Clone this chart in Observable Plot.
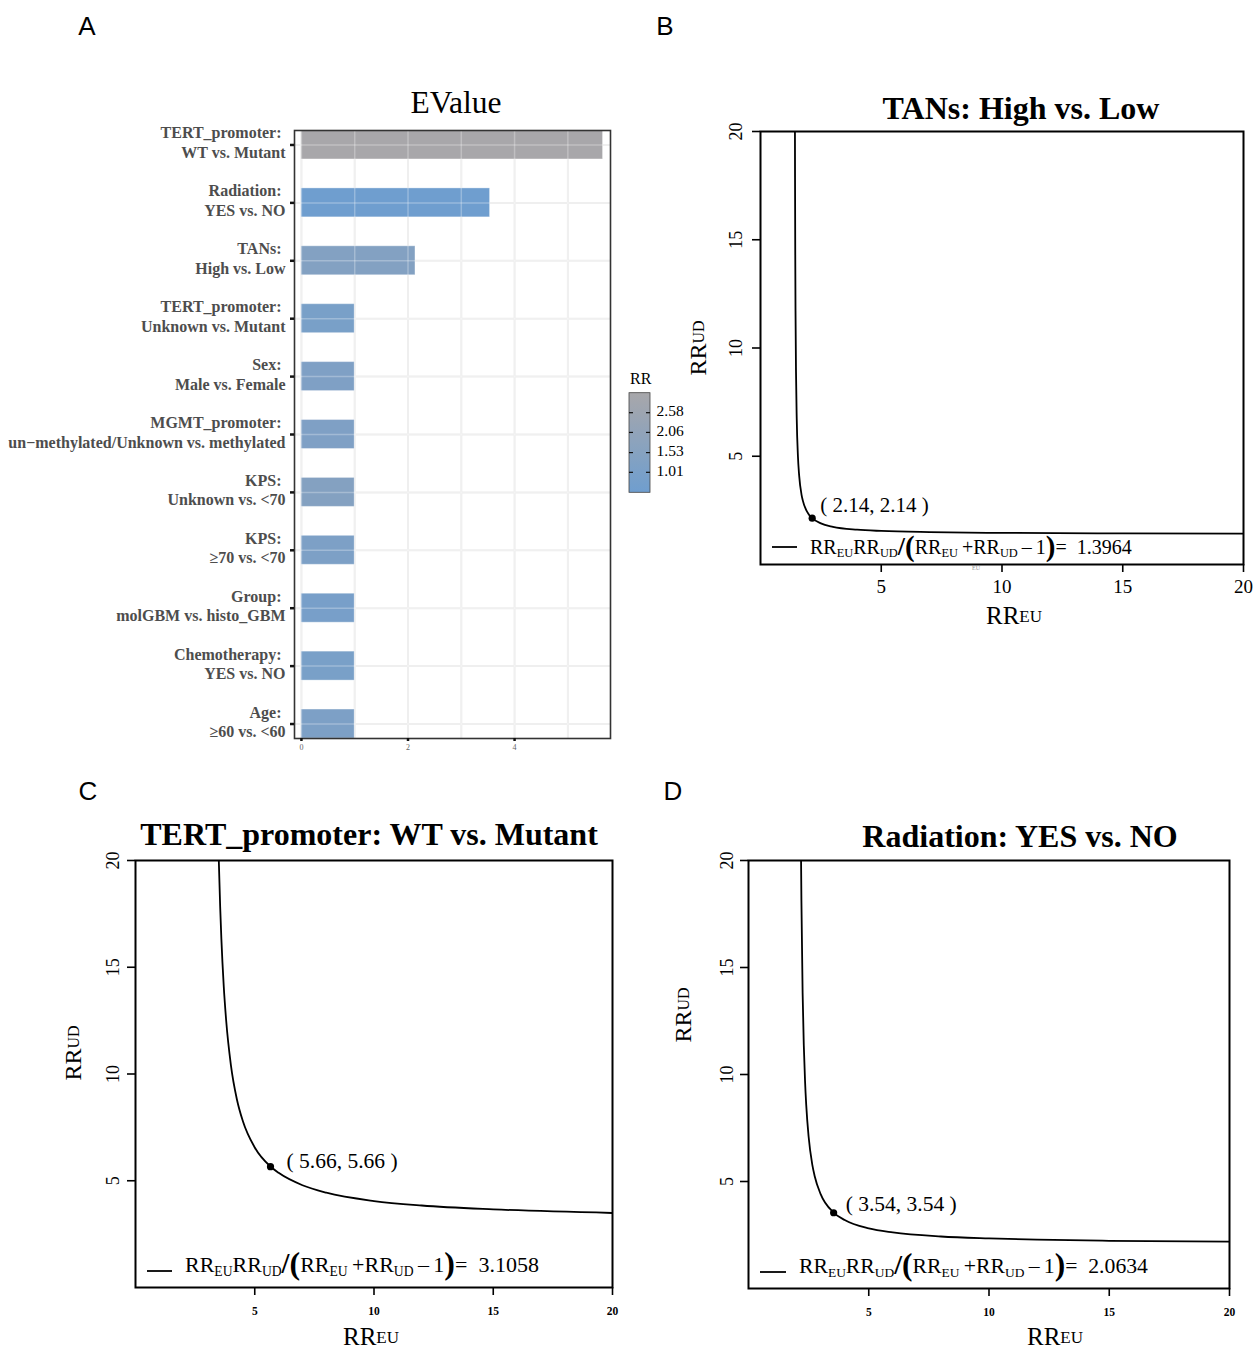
<!DOCTYPE html>
<html><head><meta charset="utf-8">
<script src="https://cdn.jsdelivr.net/npm/d3@7"></script>
<script src="https://cdn.jsdelivr.net/npm/@observablehq/plot@0.6"></script>
<style>
html,body{margin:0;padding:0;background:#fff;}
#root{position:relative;width:1255px;height:1351px;overflow:hidden;background:#fff;}
#root > svg{position:absolute;}
</style></head><body><div id="root"></div>
<script>
const SERIF = "'Liberation Serif','Times New Roman',Times,serif";
const SANS = "'Liberation Sans',Arial,Helvetica,sans-serif";

// ---------- Panel A data ----------
const factorNames = ["TERT_promoter:", "Radiation:", "TANs:", "TERT_promoter:", "Sex:", "MGMT_promoter:", "KPS:", "KPS:", "Group:", "Chemotherapy:", "Age:"];
const contrasts = ["WT vs. Mutant", "YES vs. NO", "High vs. Low", "Unknown vs. Mutant", "Male vs. Female", "un\u2212methylated/Unknown vs. methylated", "Unknown vs. <70", "\u226570 vs. <70", "molGBM vs. histo_GBM", "YES vs. NO", "\u226560 vs. <60"];
const evalues = [5.66, 3.54, 2.14, 1, 1, 1, 1, 1, 1, 1, 1];
const rrValues = [3.1058, 0.4846, 1.3964, 0.95, 1.2, 1.2, 1.45, 1.15, 0.9, 0.95, 1.15];
const evalueTicks = [0, 2, 4];
const evalueGrid = [0, 1, 2, 3, 4, 5];
const rrLegendTicks = [1.01, 1.53, 2.06, 2.58];

// ---------- Bias plot data ----------
const biasAxisTicks = [5, 10, 15, 20];
const tansTitle = "TANs: High vs. Low";
const tansBias = 1.3964;
const tansPoint = [2.14, 2.14];
const tansX = [1.4262, 1.43, 1.44, 1.45, 1.47, 1.5, 1.55, 1.6, 1.7, 1.75, 2.0, 2.14, 2.5, 3, 4, 5, 7, 10, 15, 20];
const tansY = [20, 17.87, 14.09, 11.72, 8.92, 6.74, 5.0, 4.115, 3.22, 2.962, 2.313, 2.141, 1.898, 1.742, 1.609, 1.550, 1.495, 1.460, 1.437, 1.426];

const tertTitle = "TERT_promoter: WT vs. Mutant";
const tertBias = 3.1058;
const tertPoint = [5.66, 5.66];
const tertX = [3.4929, 3.55, 3.6, 3.7, 3.8, 4.0, 4.25, 4.5, 5, 5.66, 6, 7, 8, 10, 12, 15, 20];
const tertY = [20, 17.83, 16.34, 14.11, 12.53, 10.42, 8.82, 7.80, 6.56, 5.666, 5.37, 4.79, 4.44, 4.05, 3.84, 3.66, 3.49];

const radTitle = "Radiation: YES vs. NO";
const radBias = 2.0634;
const radPoint = [3.54, 3.54];
const radX = [2.1858, 2.2, 2.25, 2.3, 2.35, 2.4, 2.5, 2.65, 2.75, 3, 3.54, 4, 5, 6, 8, 10, 12, 15, 20];
const radY = [20, 18.13, 13.82, 11.34, 9.72, 8.58, 7.09, 5.80, 5.26, 4.41, 3.55, 3.20, 2.81, 2.62, 2.43, 2.34, 2.28, 2.23, 2.19];

const root = d3.select("#root");
function place(svgNode, left, top) {
  d3.select(svgNode).style("position", "absolute").style("left", left + "px").style("top", top + "px")
    .style("overflow", "visible").style("background", "none").style("max-width", "none");
  root.node().appendChild(svgNode);
  return d3.select(svgNode);
}

// ---------- Panel A ----------
const rows = factorNames.map((f, i) => ({label: f + "\u00A0\n" + contrasts[i], e: evalues[i], rr: rrValues[i]}));
const cats = rows.map(d => d.label);
const plotA = Plot.plot({
  width: 625, height: 680,
  marginLeft: 294, marginRight: 15, marginTop: 50, marginBottom: 22,
  style: {fontFamily: SERIF, background: "none", overflow: "visible", color: "#000"},
  x: {domain: [-0.13, 5.80]},
  y: {domain: cats, paddingInner: 0.5, paddingOuter: 0, round: false},
  color: {type: "linear", domain: d3.extent(rrValues), range: ["#6F9ECF", "#A8A7AA"], interpolate: "rgb"},
  marks: [
    Plot.gridX(evalueGrid, {stroke: "#EBEBEB", strokeOpacity: 1, strokeWidth: 2}),
    Plot.gridY({stroke: "#EBEBEB", strokeOpacity: 1, strokeWidth: 2}),
    Plot.barX(rows, {x: "e", y: "label", fill: "rr", stroke: "#fff", strokeOpacity: 0.35, strokeWidth: 1}),
    Plot.gridX(evalueGrid, {stroke: "#fff", strokeOpacity: 0.28, strokeWidth: 1.5}),
    Plot.gridY({stroke: "#fff", strokeOpacity: 0.28, strokeWidth: 1.5}),
    Plot.frame({stroke: "#333", strokeWidth: 1.6}),
    Plot.axisY({tickSize: 4, strokeWidth: 2.5, stroke: "#111", tickFormat: () => "", label: null}),
    Plot.axisY({tickSize: 0, tickPadding: 9, dy: -3, fontSize: 16, fontWeight: "bold", fill: "#4D4D4D", lineHeight: 1.22, label: null}),
    Plot.axisX(evalueTicks, {tickSize: 3, strokeWidth: 2.5, stroke: "#111", tickPadding: 3, fontSize: 8, fill: "#666", label: null})
  ]
});
const sA = place(plotA, 0, 80);
sA.append("text").attr("x", 456).attr("y", 26).attr("text-anchor", "middle").attr("dominant-baseline", "middle")
  .attr("font-family", SERIF).attr("font-size", 31.5).attr("fill", "#000").text("EValue");

// colour bar legend
(function () {
  const cs = plotA.scale("color");
  const [d0, d1] = cs.domain;
  const sv = root.append("svg").attr("width", 120).attr("height", 150)
    .style("position", "absolute").style("left", "600px").style("top", "360px").style("overflow", "visible");
  const grad = sv.append("defs").append("linearGradient").attr("id", "rrgrad")
    .attr("x1", 0).attr("y1", 1).attr("x2", 0).attr("y2", 0);
  for (let k = 0; k <= 10; k++) {
    const v = d0 + (d1 - d0) * k / 10;
    grad.append("stop").attr("offset", (k * 10) + "%").attr("stop-color", cs.apply(v));
  }
  const yb = d3.scaleLinear().domain([d0, d1]).range([132.3, 32.7]);
  sv.append("rect").attr("x", 29).attr("y", 32.7).attr("width", 21).attr("height", 99.6)
    .attr("fill", "url(#rrgrad)").attr("stroke", "#444").attr("stroke-width", 0.8);
  sv.append("text").attr("x", 30).attr("y", 20.7).attr("dominant-baseline", "middle")
    .attr("font-family", SERIF).attr("font-size", 16).attr("fill", "#000").text("RR");
  for (const t of rrLegendTicks) {
    const y = yb(t);
    sv.append("line").attr("x1", 29).attr("x2", 33).attr("y1", y).attr("y2", y).attr("stroke", "#111").attr("stroke-width", 1.2);
    sv.append("line").attr("x1", 46).attr("x2", 50).attr("y1", y).attr("y2", y).attr("stroke", "#111").attr("stroke-width", 1.2);
    sv.append("text").attr("x", 56.5).attr("y", y).attr("dominant-baseline", "middle")
      .attr("font-family", SERIF).attr("font-size", 15.5).attr("fill", "#000").text(d3.format(".2f")(t));
  }
})();

// ---------- Bias panels ----------
function drawEquation(g, x, cy, fs, value) {
  const t = g.append("text").attr("x", x).attr("y", cy + fs * 0.33).attr("font-family", SERIF)
    .attr("text-anchor", "start").attr("font-size", fs).attr("fill", "#000");
  const sub = fs * 0.62, sh = fs * 0.18;
  const parts = [
    ["RR", fs, 0], ["EU", sub, sh], ["RR", fs, 0], ["UD", sub, sh],
    ["/", fs * 1.3, fs * 0.05, "bold"], ["(", fs * 1.45, fs * 0.1, "bold"], ["RR", fs, 0], ["EU", sub, sh],
    ["\u2009+RR", fs, 0], ["UD", sub, sh], ["\u2009\u2013\u20091", fs, 0], [")", fs * 1.45, fs * 0.1, "bold"],
    ["=\u2002" + d3.format(".4f")(value), fs, 0]
  ];
  let cur = 0;
  for (const [s, size, shift, w] of parts) {
    const ts = t.append("tspan").attr("font-size", size).attr("dy", shift - cur).text(s);
    if (w) ts.attr("font-weight", w);
    cur = shift;
  }
}
function rrLabel(g, x, y, big, small, rotate) {
  const t = g.append("text").attr("font-family", SERIF).attr("fill", "#000").attr("text-anchor", "middle")
    .attr("dominant-baseline", "middle")
    .attr("transform", `translate(${x},${y})` + (rotate ? " rotate(-90)" : ""));
  t.append("tspan").attr("font-size", big).text("RR");
  t.append("tspan").attr("font-size", small).text(rotate ? "UD" : "EU");
}

function biasPanel(c) {
  const pts = c.xs.map((x, i) => ({x, y: c.ys[i]}));
  const ml = c.frame[0] - c.box[0], mr = c.box[0] + c.box[2] - c.frame[1];
  const mt = c.frame[2] - c.box[1], mb = c.box[1] + c.box[3] - c.frame[3];
  const fmt = d3.format(".2f");
  const p = Plot.plot({
    width: c.box[2], height: c.box[3],
    marginLeft: ml, marginRight: mr, marginTop: mt, marginBottom: mb,
    style: {fontFamily: SERIF, background: "none", overflow: "visible", color: "#000"},
    x: {domain: [0, 20]}, y: {domain: [0, 20]},
    marks: [
      Plot.line(pts, {x: "x", y: "y", curve: "monotone-x", stroke: "#000", strokeWidth: 1.8, clip: true}),
      Plot.frame({stroke: "#000", strokeWidth: 2}),
      Plot.axisX(biasAxisTicks, {tickSize: 8, strokeWidth: 1.6, tickPadding: c.xTickPad, fontSize: c.xTickFont,
        fontWeight: c.xTickBold ? "bold" : "normal", label: null}),
      Plot.axisY(biasAxisTicks, {tickSize: 8, strokeWidth: 1.6, tickFormat: () => "", label: null}),
      Plot.text(biasAxisTicks, {y: d => d, frameAnchor: "left", dx: c.yTickDx, rotate: -90, textAnchor: "middle",
        fontSize: 18, text: d => String(d)}),
      Plot.dot([c.point], {x: d => d[0], y: d => d[1], r: 3.6, fill: "#000", stroke: "none"}),
      Plot.text([c.point], {x: d => d[0], y: d => d[1], text: d => `( ${fmt(d[0])}, ${fmt(d[1])} )`,
        textAnchor: "start", dx: c.labelDx, dy: c.labelDy, fontSize: c.labelFont})
    ]
  });
  const s = place(p, c.box[0], c.box[1]);
  s.append("text").attr("x", c.title[0]).attr("y", c.title[1]).attr("text-anchor", "middle")
    .attr("dominant-baseline", "middle").attr("font-family", SERIF).attr("font-weight", "bold")
    .attr("font-size", c.titleFont).attr("fill", "#000").text(c.titleText);
  rrLabel(s, c.ylab[0], c.ylab[1], 24, 16, true);
  rrLabel(s, c.xlab[0], c.xlab[1], 25, 17, false);
  s.append("line").attr("x1", c.leg[0]).attr("x2", c.leg[1]).attr("y1", c.leg[2]).attr("y2", c.leg[2])
    .attr("stroke", "#000").attr("stroke-width", 1.8);
  drawEquation(s, c.leg[3], c.leg[4], c.eqFont, c.bias);
  if (c.extra) c.extra(s);
  return p;
}

biasPanel({
  box: [660, 80, 595, 560], frame: [760, 1243, 131, 564],
  xs: tansX, ys: tansY, point: tansPoint, bias: tansBias, titleText: tansTitle,
  title: [361, 32], titleFont: 32, ylab: [40, 268], xlab: [354, 538],
  xTickPad: 7, xTickFont: 19, xTickBold: false, yTickDx: -24,
  labelDx: 8, labelDy: -13, labelFont: 21,
  leg: [112, 137, 467, 150, 467], eqFont: 20,
  extra: s => s.append("text").attr("x", 316).attr("y", 489).attr("text-anchor", "middle")
    .attr("dominant-baseline", "middle").attr("font-family", SERIF).attr("font-size", 6).attr("fill", "#999").text("EU")
});
biasPanel({
  box: [40, 800, 600, 551], frame: [135, 612, 860, 1287],
  xs: tertX, ys: tertY, point: tertPoint, bias: tertBias, titleText: tertTitle,
  title: [329, 38], titleFont: 32, ylab: [35, 253], xlab: [331, 539],
  xTickPad: 11, xTickFont: 11.5, xTickBold: true, yTickDx: -22,
  labelDx: 16, labelDy: -6, labelFont: 21.5,
  leg: [107, 132, 471, 145, 465], eqFont: 22
});
biasPanel({
  box: [650, 800, 605, 551], frame: [748, 1229, 860, 1288],
  xs: radX, ys: radY, point: radPoint, bias: radBias, titleText: radTitle,
  title: [370, 40], titleFont: 32, ylab: [35, 215], xlab: [405, 539],
  xTickPad: 11, xTickFont: 11.5, xTickBold: true, yTickDx: -21,
  labelDx: 12, labelDy: -9, labelFont: 21.5,
  leg: [110, 136, 472, 149, 466], eqFont: 21.7
});

// ---------- Panel letters ----------
const over = root.append("svg").attr("width", 1255).attr("height", 1351)
  .style("position", "absolute").style("left", 0).style("top", 0).style("pointer-events", "none");
[["A", 87, 28], ["B", 665, 28], ["C", 88, 793], ["D", 673, 793]].forEach(([t, x, y]) =>
  over.append("text").attr("x", x).attr("y", y).attr("text-anchor", "middle").attr("dominant-baseline", "middle")
    .attr("font-family", SANS).attr("font-size", 26).attr("fill", "#000").text(t));
</script></body></html>
